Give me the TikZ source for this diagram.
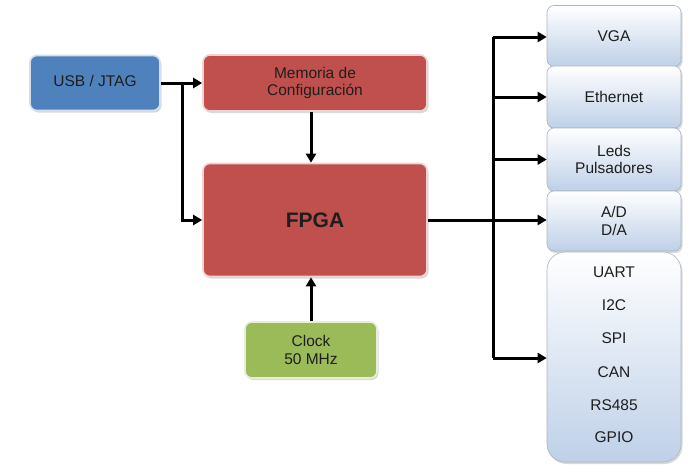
\documentclass[tikz,border=0pt]{standalone}
\usepackage{fontspec}
\setmainfont{Liberation Sans}
\usetikzlibrary{arrows.meta,shadows}
\definecolor{usbblue}{RGB}{79,129,189}
\definecolor{fpgared}{RGB}{192,80,77}
\definecolor{clkgreen}{RGB}{155,187,89}
\definecolor{iolight}{RGB}{190,208,232}
\definecolor{ioedge}{RGB}{170,180,195}
\definecolor{txt}{RGB}{30,30,30}
\begin{document}
\begin{tikzpicture}[x=1pt,y=-1pt,
		blk/.style={rounded corners=7pt, line width=1.6pt, align=center, inner sep=0pt,
			text=txt, font=\fontsize{15.5}{17.5}\selectfont,
			drop shadow={shadow xshift=1.5pt, shadow yshift=-2pt, opacity=0.3}},
		solid blk/.style={blk, fill=#1, draw=white!75!#1},
		io blk/.style={blk, draw=ioedge, line width=0.6pt, top color=white, bottom color=iolight,
			minimum width=134pt},
		io item/.style={text=txt, font=\fontsize{15.5}{17.5}\selectfont},
		arr/.style={line width=3pt, -{Triangle[length=9pt,width=10pt]}}]
			\useasboundingbox (0,0) rectangle (700,471);
			% left side
			\node[solid blk=usbblue, minimum width=130pt, minimum height=55pt] (usb) at (95,83) {\raisebox{3.5pt}{USB / JTAG}};
			\node[solid blk=fpgared, minimum width=224pt, minimum height=56pt] (mem) at (315,83) {Memoria de\\Configuración};
			\node[solid blk=fpgared, minimum width=224pt, minimum height=113pt,
				font=\fontsize{21}{24}\selectfont\bfseries] (fpga) at (315,220) {FPGA};
			\node[solid blk=clkgreen, minimum width=132pt, minimum height=56pt] (clk) at (311,350) {Clock\\50 MHz};
			% right side
			\node[io blk, minimum height=61pt] (vga) at (614,36) {VGA};
			\node[io blk, minimum height=62pt] (eth) at (614,97) {Ethernet};
			\node[io blk, minimum height=63pt] (leds) at (614,159.5) {Leds\\Pulsadores};
			\node[io blk, minimum height=60pt] (ad) at (614,221) {A/D\\D/A};
			\node[io blk, minimum height=210pt, rounded corners=18pt] (io) at (614,357) {};
			\node[io item] (uart) at (614,272) {UART};
			\node[io item] (i2c) at (614,305) {I2C};
			\node[io item] (spi) at (614,338) {SPI};
			\node[io item] (can) at (614,372) {CAN};
			\node[io item] (rs) at (614,405) {RS485};
			\node[io item] (gpio) at (614,437) {GPIO};
			% connections
			\coordinate (split) at (182,83);
			\coordinate (bustop) at (493,37);
			\coordinate (busbot) at (493,358);
			\draw[arr] (usb.east) -- (mem.west);
			\draw[arr] (split) |- (fpga.west);
			\draw[arr] (mem.south -| clk) -- (fpga.north -| clk);
			\draw[arr] (clk.north) -- (clk.north |- fpga.south);
			\draw[line width=3pt] (bustop) -- (busbot);
			\draw[line width=3pt] (fpga.east) -- (fpga.east -| bustop);
			\draw[arr] (bustop) -- (bustop -| vga.west);
			\draw[arr] (bustop |- eth.west) -- (eth.west);
			\draw[arr] (bustop |- leds.west) -- (leds.west);
			\draw[arr] (bustop |- fpga.east) -- (bustop |- fpga.east -| ad.west);
			\draw[arr] (busbot) -- (busbot -| io.west);
		\end{tikzpicture}
\end{document}
